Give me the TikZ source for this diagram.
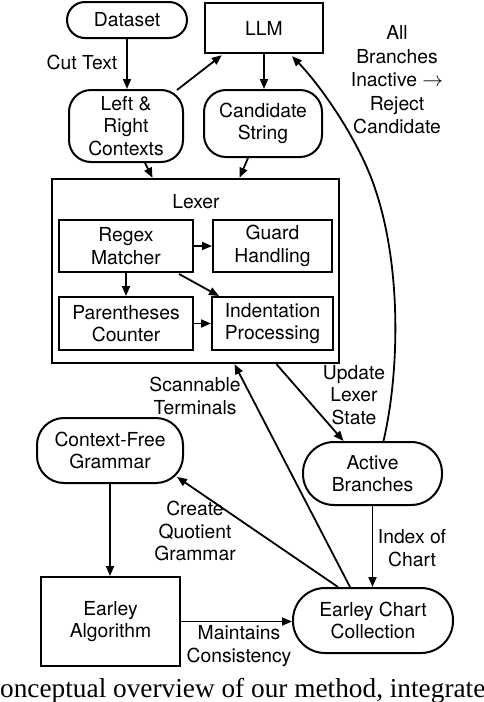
\documentclass[tikz,border=0pt]{standalone}
\usepackage{fontspec}
\setmainfont{TeX Gyre Heros}
\newfontfamily\capfont{Liberation Serif}
\usetikzlibrary{arrows.meta,calc}
\tikzset{
  txt/.style={font=\fontsize{19.3}{22.5}\selectfont},
  box/.style={draw, line width=2pt, inner sep=0pt, align=center, txt},
  pill/.style={box, rounded corners=#1},
  pill/.default=20pt,
  arr/.style={-{Triangle[length=10pt,width=8pt]}, line width=1.8pt},
  lbl/.style={align=center, inner sep=0pt, txt}
}
\begin{document}
\begin{tikzpicture}[x=1pt,y=-1pt]
\useasboundingbox (0,0) rectangle (484,702);
\clip (0,0) rectangle (484,702);
% nodes
\node[pill=18pt, minimum width=120pt, minimum height=36pt] (ds) at (127,20) {Dataset};
\node[box, line width=2.4pt, minimum width=118pt, minimum height=50pt] (llm) at (264,28) {LLM};
\node[pill=22pt, minimum width=114pt, minimum height=72pt] (lr) at (126,126) {Left \&\\Right\\Contexts};
\node[pill=22pt, minimum width=118pt, minimum height=67pt] (cs) at (263,123.5) {Candidate\\String};
\node[box, line width=2.4pt, minimum width=287pt, minimum height=184pt] (lexer) at (195.5,271) {};
\node[lbl] (lexlbl) at (196,202) {Lexer};
\node[box, minimum width=134pt, minimum height=52pt] (rm) at (126,246) {Regex\\Matcher};
\node[box, minimum width=119pt, minimum height=52pt] (gh) at (272.5,246) {Guard\\Handling};
\node[box, minimum width=134pt, minimum height=53pt] (pc) at (126,323.5) {Parentheses\\Counter};
\node[box, minimum width=121pt, minimum height=53pt] (ip) at (272.5,323.5) {Indentation\\Processing};
\node[pill=27pt, minimum width=146pt, minimum height=65pt] (cfg) at (110,450.5) {Context-Free\\Grammar};
\node[pill=31pt, minimum width=139pt, minimum height=63pt] (ab) at (372.5,473.5) {Active\\Branches};
\node[box, minimum width=139pt, minimum height=89pt] (ea) at (110.5,621.5) {Earley\\Algorithm};
\node[pill=32pt, minimum width=160pt, minimum height=65pt] (ec) at (373,620.5) {Earley Chart\\Collection};
\coordinate (bend) at (372,180);
% labels
\node[lbl] (lcut) at (82,62) {Cut Text};
\node[lbl, font=\fontsize{19.3}{23.5}\selectfont] (lall) at (397,80) {All\\Branches\\Inactive $\rightarrow$\\Reject\\Candidate};
\node[lbl] (lupd) at (354,395) {Update\\Lexer\\State};
\node[lbl] (lscan) at (195,396) {Scannable\\Terminals};
\node[lbl] (lquot) at (195,531) {Create\\Quotient\\Grammar};
\node[lbl] (lidx) at (412,548) {Index of\\Chart};
\node[lbl] (lmain) at (239,646) {Maintains\\Consistency};
% connectors
\draw[arr] (ds.south) -- (ds.south |- lr.north);
\draw[arr] ($(lr.north east)+(-7,1)$) -- ($(llm.south west)+(18,1)$);
\draw[arr] (llm.south) -- (llm.south |- cs.north);
\draw[arr] ($(lr.south)+(19,0)$) -- ($(lexer.north)+(-43,0)$);
\draw[arr] ($(cs.south)+(-15,0)$) -- ($(lexer.north)+(44,0)$);
\draw[arr] (rm.east) -- (gh.west);
\draw[arr] (rm.south) -- (pc.north);
\draw[arr] ($(rm.south east)+(-15,1)$) -- ($(ip.north west)+(8,0)$);
\draw[arr] (pc.east) -- (ip.west);
\draw[arr] ($(lexer.south)+(81,0)$) -- ($(ab.north)+(-29,0)$);
\draw[arr] ($(ec.north)+(-23,0)$) -- ($(lexer.south)+(39,0)$);
\draw[arr] ($(ec.north)+(-35,0)$) -- ($(cfg.south east)+(-7,-7)$);
\draw[arr] (ab.south) -- (ab.south |- ec.north);
\draw[arr] (cfg.south) -- (cfg.south |- ea.north);
\draw[arr] (ea.east) -- (ea.east -| ec.west);
\draw[arr] ($(ab.north)+(11,0)$) .. controls (400,370) and (402,260) .. (bend) .. controls (355,135) and (320,85) .. ($(llm.south)+(28,2)$);
% caption fragment
\node[anchor=base west, inner sep=0pt, font=\capfont\fontsize{27.3}{30}\selectfont] (cap) at (0,697) {onceptual overview of our method, integrate};
\end{tikzpicture}
\end{document}
